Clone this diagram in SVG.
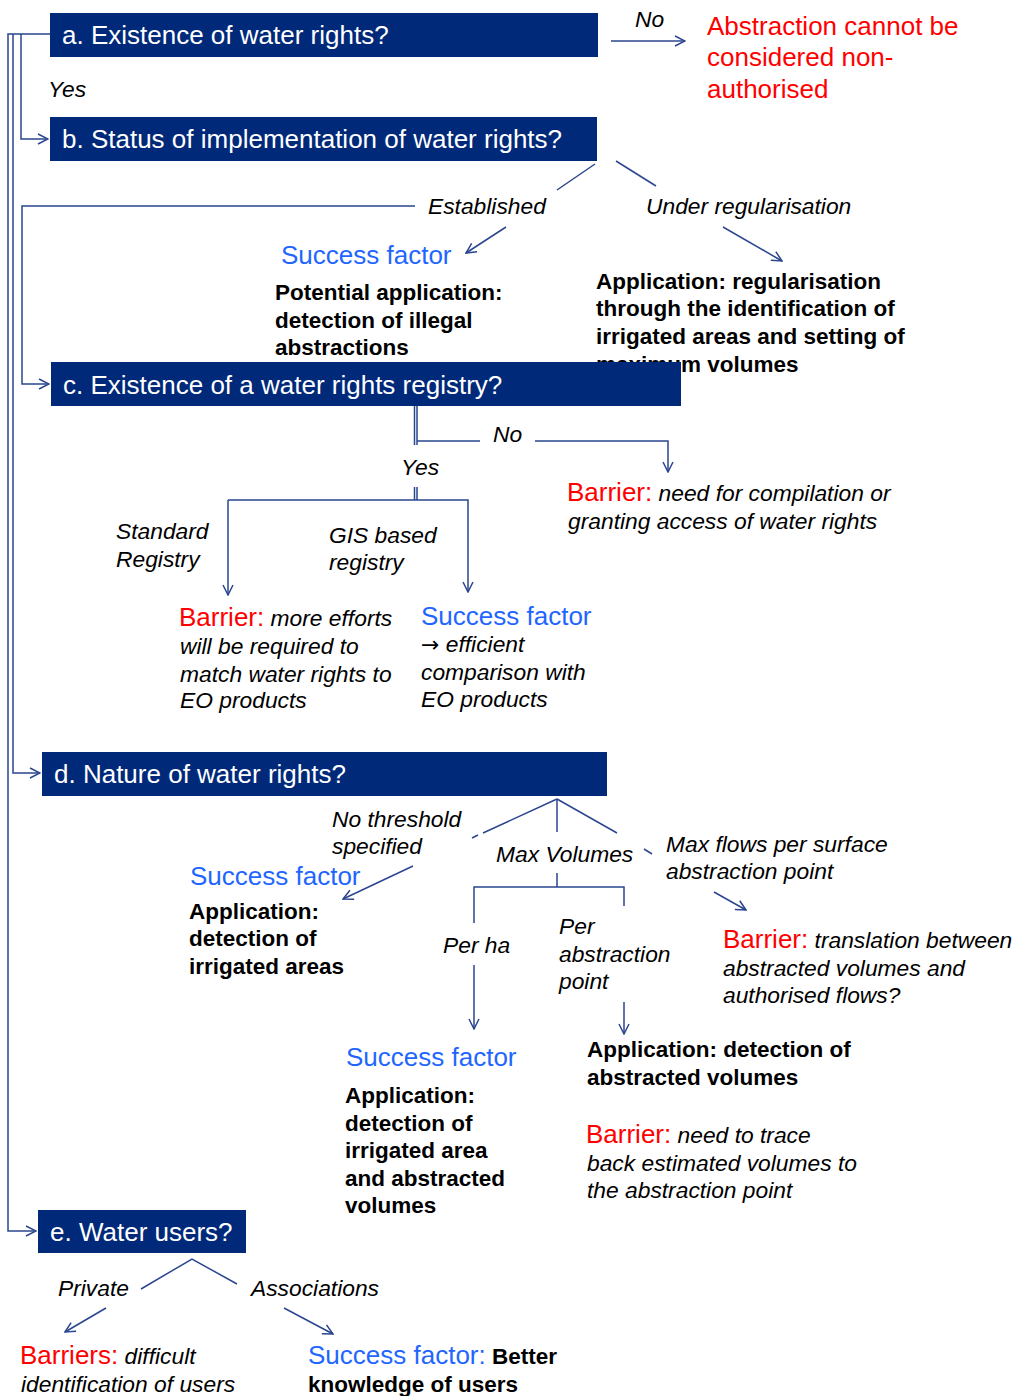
<svg xmlns="http://www.w3.org/2000/svg" width="1017" height="1396" viewBox="0 0 1017 1396" font-family="'Liberation Sans', Arial, sans-serif">
  <style>
    .box { fill: #00297a; }
    .bt { fill: #ffffff; font-size: 26px; }
    .it { font-style: italic; font-size: 22.8px; fill: #000000; }
    .bd { font-weight: bold; font-size: 22.5px; fill: #000000; }
    .red { fill: #ff0000; font-size: 26px; font-style: normal; font-weight: normal; }
    .blue { fill: #1f66ff; font-size: 26px; font-style: normal; font-weight: normal; }
    .sym { font-family: 'DejaVu Sans', sans-serif; font-style: normal; font-size: 22px; }
    .ln { stroke: #2b4590; stroke-width: 1.5; fill: none; }
  </style>
  <defs>
    <marker id="arr" viewBox="0 0 12 12" refX="11" refY="6" markerWidth="12" markerHeight="12" markerUnits="userSpaceOnUse" orient="auto">
      <path d="M1,1 L11,6 L1,11" fill="none" stroke="#2b4590" stroke-width="1.5"/>
    </marker>
  </defs>

  <!-- text partly hidden by box c (drawn before it) -->
  <g id="app-regularisation">
    <text class="bd" x="596" y="289">Application: regularisation</text>
    <text class="bd" x="596" y="316">through the identification of</text>
    <text class="bd" x="596" y="344">irrigated areas and setting of</text>
    <text class="bd" x="596" y="372">maximum volumes</text>
  </g>

  <g id="connectors">
    <!-- left trunk -->
    <path class="ln" d="M50,34 H8 V1231 H36" marker-end="url(#arr)"/>
    <path class="ln" d="M13,34 V773 H40" marker-end="url(#arr)"/>
    <path class="ln" d="M21,34 V139 H48" marker-end="url(#arr)"/>
    <path class="ln" d="M415,206 H22 V384 H49" marker-end="url(#arr)"/>
    <!-- a: No -->
    <path class="ln" d="M611,41 H685" marker-end="url(#arr)"/>
    <!-- b branches -->
    <path class="ln" d="M595,164 L557,190"/>
    <path class="ln" d="M616,161 L656,186"/>
    <path class="ln" d="M506,227 L466,253" marker-end="url(#arr)"/>
    <path class="ln" d="M723,227 L782,261" marker-end="url(#arr)"/>
    <!-- c branches -->
    <path class="ln" d="M414.5,406 V445 M417,406 V445 M414.5,487 V500 M417,487 V500"/>
    <path class="ln" d="M417,441 H480 M535,441 H668 V472" marker-end="url(#arr)"/>
    <path class="ln" d="M228,500 H468 V592" marker-end="url(#arr)"/>
    <path class="ln" d="M228,500 V595" marker-end="url(#arr)"/>
    <!-- d branches -->
    <path class="ln" d="M557,799 L483,833 M478,835 L472,838"/>
    <path class="ln" d="M557,799 V832"/>
    <path class="ln" d="M557,799 L617,833 M644,849 L652,854"/>
    <path class="ln" d="M413,866 L343,899" marker-end="url(#arr)"/>
    <path class="ln" d="M714,892 L746,910" marker-end="url(#arr)"/>
    <path class="ln" d="M557,873 V887 M474,923 V887 H624 V906"/>
    <path class="ln" d="M474,965 V1029" marker-end="url(#arr)"/>
    <path class="ln" d="M624,1002 V1034" marker-end="url(#arr)"/>
    <!-- e branches -->
    <path class="ln" d="M141,1289 L192,1259 L237,1284"/>
    <path class="ln" d="M106,1308 L65,1332" marker-end="url(#arr)"/>
    <path class="ln" d="M284,1308 L333,1334" marker-end="url(#arr)"/>
  </g>

  <g id="node-a">
    <rect class="box" x="50" y="13" width="548" height="44"/>
    <text class="bt" x="62" y="44">a. Existence of water rights?</text>
  </g>
  <g id="label-a-no"><text class="it" x="635" y="27">No</text></g>
  <g id="outcome-a">
    <text class="red" x="707" y="35">Abstraction cannot be</text>
    <text class="red" x="707" y="66">considered non-</text>
    <text class="red" x="707" y="98">authorised</text>
  </g>
  <g id="label-a-yes"><text class="it" x="48" y="97">Yes</text></g>

  <g id="node-b">
    <rect class="box" x="50" y="117" width="547" height="44"/>
    <text class="bt" x="62" y="148">b. Status of implementation of water rights?</text>
  </g>
  <g id="labels-b">
    <text class="it" x="428" y="214">Established</text>
    <text class="it" x="646" y="214">Under regularisation</text>
  </g>
  <g id="success-b">
    <text class="blue" x="281" y="264">Success factor</text>
    <text class="bd" x="275" y="300">Potential application:</text>
    <text class="bd" x="275" y="328">detection of illegal</text>
    <text class="bd" x="275" y="355">abstractions</text>
  </g>

  <g id="node-c">
    <rect class="box" x="51" y="362" width="630" height="44"/>
    <text class="bt" x="63" y="394">c. Existence of a water rights registry?</text>
  </g>
  <g id="labels-c">
    <text class="it" x="493" y="442">No</text>
    <text class="it" x="401" y="475">Yes</text>
    <text class="it" x="116" y="539">Standard</text>
    <text class="it" x="116" y="567">Registry</text>
    <text class="it" x="329" y="543">GIS based</text>
    <text class="it" x="329" y="570">registry</text>
  </g>
  <g id="barrier-c-no">
    <text class="it" x="567" y="501"><tspan class="red">Barrier:</tspan> need for compilation or</text>
    <text class="it" x="568" y="529">granting access of water rights</text>
  </g>
  <g id="barrier-c-standard">
    <text class="it" x="179" y="626"><tspan class="red">Barrier:</tspan> more efforts</text>
    <text class="it" x="180" y="654">will be required to</text>
    <text class="it" x="180" y="682">match water rights to</text>
    <text class="it" x="180" y="708">EO products</text>
  </g>
  <g id="success-c-gis">
    <text class="blue" x="421" y="625">Success factor</text>
    <text class="it" x="421" y="652"><tspan class="sym">→</tspan> efficient</text>
    <text class="it" x="421" y="680">comparison with</text>
    <text class="it" x="421" y="707">EO products</text>
  </g>

  <g id="node-d">
    <rect class="box" x="42" y="752" width="565" height="44"/>
    <text class="bt" x="54" y="783">d. Nature of water rights?</text>
  </g>
  <g id="labels-d">
    <text class="it" x="332" y="827">No threshold</text>
    <text class="it" x="332" y="854">specified</text>
    <text class="it" x="496" y="862">Max Volumes</text>
    <text class="it" x="666" y="852">Max flows per surface</text>
    <text class="it" x="666" y="879">abstraction point</text>
    <text class="it" x="443" y="953">Per ha</text>
    <text class="it" x="559" y="934">Per</text>
    <text class="it" x="559" y="962">abstraction</text>
    <text class="it" x="559" y="989">point</text>
  </g>
  <g id="success-d-threshold">
    <text class="blue" x="190" y="885">Success factor</text>
    <text class="bd" x="189" y="919">Application:</text>
    <text class="bd" x="189" y="946">detection of</text>
    <text class="bd" x="189" y="974">irrigated areas</text>
  </g>
  <g id="barrier-d-flows">
    <text class="it" x="723" y="948"><tspan class="red">Barrier:</tspan> translation between</text>
    <text class="it" x="723" y="976">abstracted volumes and</text>
    <text class="it" x="723" y="1003">authorised flows?</text>
  </g>
  <g id="success-d-perha">
    <text class="blue" x="346" y="1066">Success factor</text>
    <text class="bd" x="345" y="1103">Application:</text>
    <text class="bd" x="345" y="1131">detection of</text>
    <text class="bd" x="345" y="1158">irrigated area</text>
    <text class="bd" x="345" y="1186">and abstracted</text>
    <text class="bd" x="345" y="1213">volumes</text>
  </g>
  <g id="app-d-point">
    <text class="bd" x="587" y="1057">Application: detection of</text>
    <text class="bd" x="587" y="1085">abstracted volumes</text>
  </g>
  <g id="barrier-d-point">
    <text class="it" x="586" y="1143"><tspan class="red">Barrier:</tspan> need to trace</text>
    <text class="it" x="587" y="1171">back estimated volumes to</text>
    <text class="it" x="587" y="1198">the abstraction point</text>
  </g>

  <g id="node-e">
    <rect class="box" x="38" y="1210" width="208" height="43"/>
    <text class="bt" x="50" y="1241">e. Water users?</text>
  </g>
  <g id="labels-e">
    <text class="it" x="58" y="1296">Private</text>
    <text class="it" x="251" y="1296">Associations</text>
  </g>
  <g id="barrier-e">
    <text class="it" x="20" y="1364"><tspan class="red">Barriers:</tspan> difficult</text>
    <text class="it" x="21" y="1392">identification of users</text>
  </g>
  <g id="success-e">
    <text class="bd" x="308" y="1364"><tspan class="blue">Success factor:</tspan> Better</text>
    <text class="bd" x="308" y="1392">knowledge of users</text>
  </g>
</svg>
